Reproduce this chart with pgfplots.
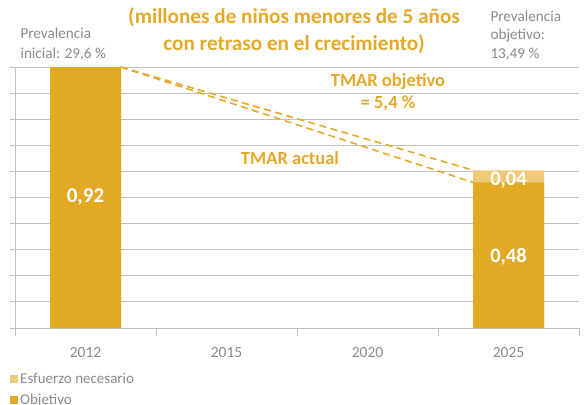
\documentclass[border=0pt]{standalone}
\usepackage{pgfplots}
\pgfplotsset{compat=1.18}
\usepackage{fontspec}
\setmainfont{Carlito}
\definecolor{barDark}{HTML}{E2AA23}
\definecolor{barLight}{HTML}{F1C97A}
\definecolor{gold}{HTML}{E6A82A}
\definecolor{gridc}{HTML}{C0C0C0}
\definecolor{txtgray}{HTML}{8A8A8A}
\begin{document}
\begin{tikzpicture}
\useasboundingbox (0,0) rectangle (586bp,-405bp);
\begin{axis}[
  at={(15bp,-328bp)}, anchor=south west,
  scale only axis, width=564bp, height=261bp,
  xmin=-0.5, xmax=3.5, ymin=0, ymax=0.92,
  axis x line*=bottom, axis y line*=left,
  axis line style={gridc, line width=1bp},
  xtick={0,1,2,3}, xticklabels={2012,2015,2020,2025},
  minor xtick={-0.5,0.5,1.5,2.5,3.5},
  major x tick style={draw=none},
  minor x tick style={gridc, line width=1bp},
  minor tick length=8bp,
  ytick={0,0.092,0.184,0.276,0.368,0.46,0.552,0.644,0.736,0.828,0.92},
  yticklabels={},
  major y tick style={gridc, line width=1bp},
  major tick length=5bp,
  tick align=outside,
  ymajorgrids, grid style={gridc, line width=1bp},
  xticklabel style={font=\fontsize{15.5bp}{18bp}\selectfont, text=txtgray, yshift=-11bp},
  legend style={draw=none, fill=none, at={(axis description cs:0,0)}, anchor=north west,
    xshift=-5bp, yshift=-43bp, font=\fontsize{15bp}{17bp}\selectfont, text=txtgray,
    cells={anchor=west}, row sep=5bp, inner sep=0pt},
  legend image code/.code={\fill[#1] (0bp,-4bp) rectangle (8bp,4bp);},
  clip=false,
]
\addplot[ybar, bar width=71bp, bar shift=0pt, fill=barLight, draw=none]
  coordinates {(0,0) (3,0.556)};
\addlegendentry{Esfuerzo necesario}
\addplot[ybar, bar width=71bp, bar shift=0pt, fill=barDark, draw=none]
  coordinates {(0,0.92) (3,0.513)};
\addlegendentry{Objetivo}
\addplot[forget plot, sharp plot, no marks, gold, line width=1.6bp, dash pattern=on 7bp off 4.5bp]
  coordinates {(0.25,0.92) (2.75,0.556)};
\addplot[forget plot, sharp plot, no marks, gold, line width=1.6bp, dash pattern=on 7bp off 4.5bp]
  coordinates {(0.25,0.92) (2.75,0.513)};
\node[text=white, font=\bfseries\fontsize{21bp}{23bp}\selectfont] at (axis cs:0,0.46) {0,92};
\node[text=white, font=\bfseries\fontsize{20.5bp}{23bp}\selectfont] at (axis cs:3,0.25) {0,48};
\node[text=white, font=\bfseries\fontsize{20.5bp}{23bp}\selectfont] at (axis cs:3,0.52) {0,04};
\end{axis}
\node[text=gold, font=\bfseries\fontsize{21.2bp}{27bp}\selectfont, align=center] at (294bp,-31bp)
  {(millones de niños menores de 5 años\\con retraso en el crecimiento)};
\node[text=txtgray, font=\fontsize{15.2bp}{20bp}\selectfont, align=left, anchor=west] at (17bp,-44bp)
  {Prevalencia\\inicial: 29,6 \%};
\node[text=txtgray, font=\fontsize{15.2bp}{18.5bp}\selectfont, align=left, anchor=west] at (487bp,-35.5bp)
  {Prevalencia\\objetivo:\\13,49 \%};
\node[text=gold, font=\bfseries\fontsize{18.5bp}{22bp}\selectfont, align=center] at (388bp,-92bp)
  {TMAR objetivo\\= 5,4 \%};
\node[text=gold, font=\bfseries\fontsize{18.5bp}{20bp}\selectfont] at (290bp,-158bp) {TMAR actual};
\end{tikzpicture}
\end{document}
